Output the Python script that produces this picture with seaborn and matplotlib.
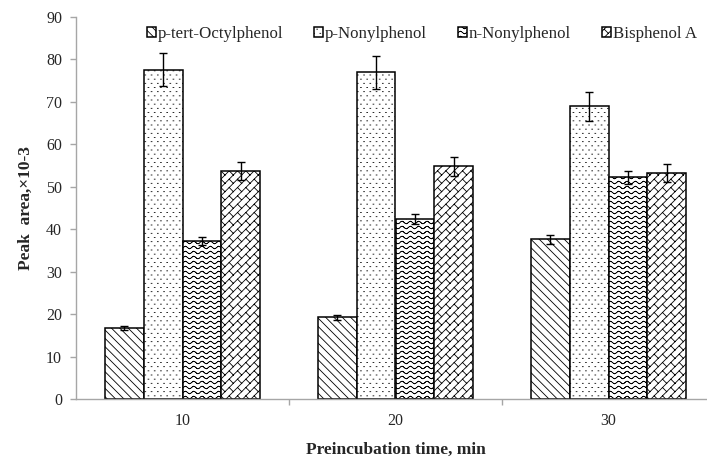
import warnings
import numpy as np
import pandas as pd
import matplotlib
matplotlib.use("Agg")
import matplotlib.pyplot as plt
import matplotlib.hatch as mhatch
from matplotlib.path import Path
from matplotlib.ticker import FixedLocator
import seaborn as sns

warnings.filterwarnings("ignore")

# ---- data -------------------------------------------------------------
times = ["10", "20", "30"]
compounds = ["p-tert-Octylphenol", "p-Nonylphenol", "n-Nonylphenol", "Bisphenol A"]

octylphenol = [16.8, 19.2, 37.6]
octylphenol_err = [0.45, 0.5, 1.1]
p_nonylphenol = [77.5, 76.9, 68.9]
p_nonylphenol_err = [3.9, 3.9, 3.4]
n_nonylphenol = [37.2, 42.4, 52.2]
n_nonylphenol_err = [1.0, 1.2, 1.5]
bisphenol_a = [53.6, 54.8, 53.3]
bisphenol_a_err = [2.1, 2.2, 2.1]

y_ticks = [0, 10, 20, 30, 40, 50, 60, 70, 80, 90]

values = [octylphenol, p_nonylphenol, n_nonylphenol, bisphenol_a]
errors = [octylphenol_err, p_nonylphenol_err, n_nonylphenol_err, bisphenol_a_err]

df = pd.DataFrame({
    "time": [t for _ in compounds for t in times],
    "compound": [c for c in compounds for _ in times],
    "area": [v for vals in values for v in vals],
})


# ---- extra fill patterns (tiled per inch, built from zero-area segments) --
class _SegmentHatch(mhatch.HatchPatternBase):
    symbol = ""

    def __init__(self, hatch, density):
        n = hatch.count(self.symbol) if hatch else 0
        self.segs = self.segments() if n else np.empty((0, 2, 2))
        self.num_vertices = len(self.segs) * 2

    def set_vertices_and_codes(self, vertices, codes):
        vertices[0::2] = self.segs[:, 0]
        vertices[1::2] = self.segs[:, 1]
        codes[0::2] = Path.MOVETO
        codes[1::2] = Path.LINETO


class DotHatch(_SegmentHatch):
    symbol = ":"

    def segments(self):
        ncol, nrow = 16, 24
        d = 0.004
        segs = []
        for j in range(nrow + 1):
            y = j / nrow
            off = 0.5 / ncol if j % 2 else 0.0
            for i in range(-1, ncol + 1):
                x = i / ncol + off + 0.25 / ncol
                segs.append([[x - d, y], [x + d, y]])
        return np.array(segs)


class WaveHatch(_SegmentHatch):
    symbol = "~"

    def segments(self):
        nper, nrow, amp = 12, 20, 0.012
        xs = np.linspace(0.0, 1.0, nper * 8 + 1)
        segs = []
        for j in range(nrow):
            y = (j + 0.5) / nrow + amp * np.sin(2 * np.pi * nper * xs)
            pts = np.column_stack([xs, y])
            segs.extend(np.stack([pts[:-1], pts[1:]], axis=1))
        return np.array(segs)


class BrickHatch(_SegmentHatch):
    symbol = "z"

    def segments(self):
        n = 12
        c = 1.0 / n
        segs = []
        for i in range(n):
            for j in range(n):
                x0, y0 = i * c, j * c
                segs.append([[x0, y0], [x0 + c, y0 + c]])
                segs.append([[x0 + c / 2, y0 + c / 2], [x0 + c, y0]])
        return np.array(segs)


mhatch._hatch_types.extend([DotHatch, WaveHatch, BrickHatch])

# ---- style ------------------------------------------------------------
sns.set_theme(style="white")
plt.rcParams["font.family"] = ["Liberation Serif", "DejaVu Serif"]
plt.rcParams["hatch.linewidth"] = 0.6
plt.rcParams["hatch.color"] = "black"

fig = plt.figure(figsize=(7.07, 4.62), dpi=100)
ax = fig.add_axes([76 / 707, 63 / 462, 639 / 707, 382.3 / 462])

sns.barplot(
    data=df, x="time", y="area", hue="compound",
    order=times, hue_order=compounds,
    palette=["white"] * 4, saturation=1, width=0.73,
    edgecolor="black", linewidth=1.1, errorbar=None, legend=False, ax=ax,
)

hatches = ["\\\\\\\\", ":", "~", "z"]
for cont, hatch, errs in zip(ax.containers, hatches, errors):
    xs, hs = [], []
    for bar in cont:
        bar.set_hatch(hatch)
        xs.append(bar.get_x() + bar.get_width() / 2)
        hs.append(bar.get_height())
    ax.errorbar(xs, hs, yerr=errs, fmt="none", ecolor="black",
                elinewidth=1.0, capsize=3.2, capthick=1.0, zorder=5)

# ---- axes -------------------------------------------------------------
ax.set_ylim(0, 90)
ax.set_xlim(-0.5, 2.5)
ax.set_yticks(y_ticks)
ax.tick_params(axis="y", labelsize=11.5, length=4, width=1.0,
               color="#A6A6A6", pad=6, left=True, direction="out")
ax.xaxis.set_minor_locator(FixedLocator([0.5, 1.5]))
ax.tick_params(axis="x", which="major", length=0, labelsize=11.5, pad=10)
ax.tick_params(axis="x", which="minor", length=4, width=1.0,
               color="#A6A6A6", bottom=True, direction="out")

for side in ["top", "right"]:
    ax.spines[side].set_visible(False)
for side in ["left", "bottom"]:
    ax.spines[side].set_color("#A6A6A6")
    ax.spines[side].set_linewidth(1.0)

ax.set_ylabel("Peak  area,\u00d710-3", fontsize=12.5, fontweight="bold")
ax.yaxis.set_label_coords(-0.066, 0.5)
ax.set_xlabel("Preincubation time, min", fontsize=12.5, fontweight="bold")
ax.xaxis.set_label_coords(0.5, -0.113)

leg = ax.legend(
    handles=list(ax.containers), labels=compounds,
    loc="center", bbox_to_anchor=(422 / 707, 1 - 34 / 462),
    bbox_transform=fig.transFigure, ncol=4, frameon=False,
    fontsize=12.2, handlelength=0.5, handleheight=0.5,
    handletextpad=0.12, columnspacing=1.85, borderpad=0,
)

fig.savefig("out.png", dpi=100)
